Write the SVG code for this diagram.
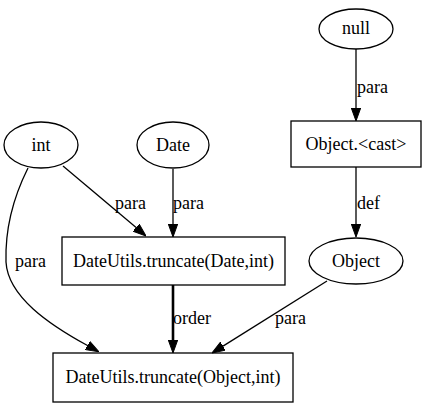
<svg xmlns="http://www.w3.org/2000/svg" width="426" height="407" viewBox="0 0 426 407">
<style>
.n{fill:none;stroke:#000;stroke-width:1.3}
text{font-family:'Liberation Serif','Times New Roman',Times,serif;font-size:18px;fill:#000}
.t{text-anchor:middle}
.e{fill:none;stroke:#000;stroke-width:1.3}
.b{fill:none;stroke:#000;stroke-width:2.6}
</style>
<defs>
<marker id="a" viewBox="0 -5 13 10" refX="0" refY="0" markerWidth="13" markerHeight="10" markerUnits="userSpaceOnUse" orient="auto">
<path d="M0,-4.7 L13,0 L0,4.7 z" fill="#000" stroke="#000" stroke-width="1"/>
</marker>
</defs>
<rect width="426" height="407" fill="#fff"/>
<g id="edges">
<path class="e" d="M356,49 L356,108" marker-end="url(#a)"/>
<text x="357" y="93">para</text>
<path class="e" d="M356,167 L356,224" marker-end="url(#a)"/>
<text x="357" y="209">def</text>
<path class="e" d="M63,166 L136.1,227.6" marker-end="url(#a)"/>
<text x="115" y="209">para</text>
<path class="e" d="M173,169 L173,224" marker-end="url(#a)"/>
<text x="173" y="209">para</text>
<path class="e" d="M28,168 C12,200 5,230 6,262 C8,297 50,325 87.5,345.5" marker-end="url(#a)"/>
<text x="15" y="267">para</text>
<path class="b" d="M173,285 L173,340" marker-end="url(#a)"/>
<text x="173" y="324">order</text>
<path class="e" d="M327,281 L223,346.1" marker-end="url(#a)"/>
<text x="275" y="324">para</text>
</g>
<g id="null"><ellipse class="n" cx="356" cy="29" rx="37" ry="20"/><text class="t" x="356" y="34">null</text></g>
<g id="cast"><rect class="n" x="291" y="121" width="130" height="46"/><text class="t" x="356" y="150">Object.&lt;cast&gt;</text></g>
<g id="int"><ellipse class="n" cx="41" cy="145" rx="37" ry="23"/><text class="t" x="41" y="151">int</text></g>
<g id="date"><ellipse class="n" cx="173" cy="145" rx="36" ry="23"/><text class="t" x="173" y="151">Date</text></g>
<g id="object"><ellipse class="n" cx="356" cy="261" rx="47" ry="23"/><text class="t" x="356" y="267">Object</text></g>
<g id="truncDate"><rect class="n" x="62" y="237" width="223" height="48"/><text class="t" x="173.5" y="267">DateUtils.truncate(Date,int)</text></g>
<g id="truncObj"><rect class="n" x="53" y="353" width="240" height="49"/><text class="t" x="173" y="383">DateUtils.truncate(Object,int)</text></g>
</svg>
